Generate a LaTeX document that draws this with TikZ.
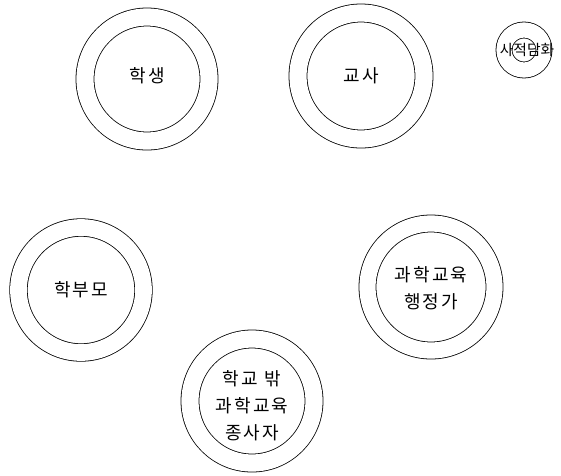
\documentclass[tikz,border=0pt]{standalone}
\usepackage{fontspec}
\newfontfamily\kr[LetterSpace=12]{Noto Sans CJK KR}
\newfontfamily\krs{Noto Sans CJK KR}
\begin{document}
\begin{tikzpicture}[x=1pt,y=-1pt,
  ring/.style={circle, draw=black, line width=0.8pt, double=white, inner sep=0pt},
  lbl/.style={font=\kr\fontsize{18}{27}\selectfont, align=center, inner sep=0pt},
  slbl/.style={font=\krs\fontsize{14.8}{16}\selectfont, inner sep=0pt}]
\useasboundingbox (0,0) rectangle (561,475);
\node[ring, minimum size=124pt, double distance=17.2pt] (hs) at (147,79) {};
\node[ring, minimum size=126pt, double distance=17.2pt] (gs) at (361,76) {};
\node[ring, minimum size=40pt, double distance=15.2pt] (sj) at (524,50) {};
\node[ring, minimum size=125pt, double distance=16.7pt] (hb) at (81,290) {};
\node[ring, minimum size=127pt, double distance=16.2pt] (hj) at (431,287) {};
\node[ring, minimum size=124pt, double distance=17.2pt] (hk) at (252,401) {};
\node[lbl] (ths) at ([yshift=3pt]hs.center) {학생};
\node[lbl] (tgs) at (gs.center) {교사};
\node[slbl] (tsj) at ([xshift=3pt]sj.center) {사적담화};
\node[lbl] (thb) at (hb.center) {학부모};
\node[lbl] (thj) at ([yshift=-1pt]hj.center) {과학교육\\행정가};
\node[lbl] (thk) at ([yshift=-5pt]hk.center) {학교 밖\\과학교육\\종사자};
\end{tikzpicture}
\end{document}
